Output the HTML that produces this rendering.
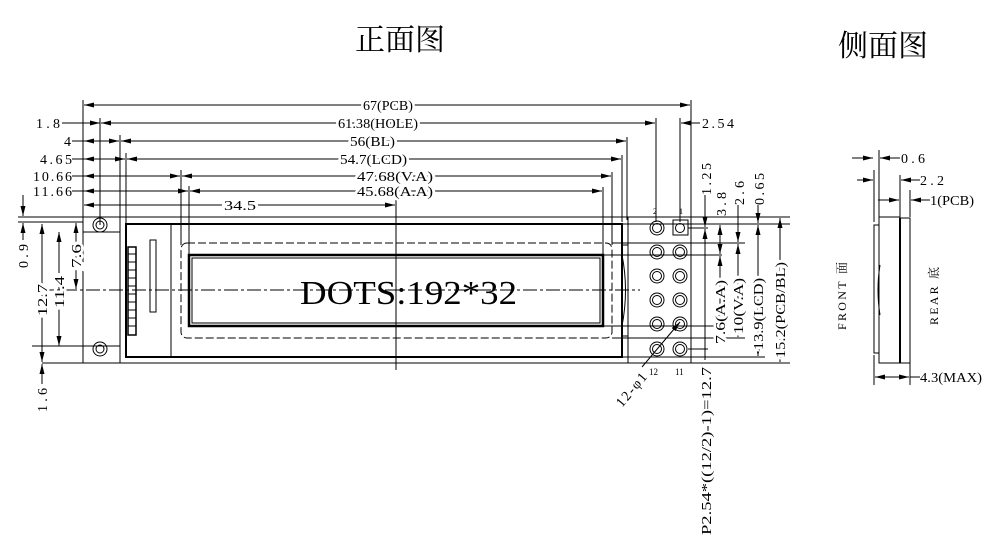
<!DOCTYPE html>
<html><head><meta charset="utf-8"><style>
html,body{margin:0;padding:0;background:#fff;}
svg{display:block}
text{font-family:"Liberation Serif","Noto Serif CJK SC",serif;fill:#000}
.h text{stroke:#fff;stroke-width:5;fill:#fff}
</style></head><body>
<svg width="1003" height="540" viewBox="0 0 1003 540" xmlns="http://www.w3.org/2000/svg">
<defs>
<marker id="a" viewBox="0 0 10 6" refX="10" refY="3" markerWidth="10" markerHeight="6" orient="auto-start-reverse" markerUnits="userSpaceOnUse"><path d="M0,0.5L10,3L0,5.5z" fill="#000"/></marker>
</defs>
<text x="355" y="50" style="font-size:30px;font-family:'Noto Serif CJK SC',serif">正面图</text>
<text x="838" y="56" style="font-size:30px;font-family:'Noto Serif CJK SC',serif">侧面图</text>

<g stroke="#000" stroke-width="1" fill="none">
<line x1="83" y1="100" x2="83" y2="217"/>
<line x1="100" y1="118" x2="100" y2="225"/>
<line x1="120" y1="135" x2="120" y2="217"/>
<line x1="126" y1="153" x2="126" y2="224"/>
<line x1="181" y1="170" x2="181" y2="245"/>
<line x1="189" y1="186" x2="189" y2="257"/>
<line x1="691" y1="100" x2="691" y2="217"/>
<line x1="656" y1="118" x2="656" y2="222"/>
<line x1="680" y1="118" x2="680" y2="222"/>
<line x1="627" y1="137" x2="627" y2="220"/>
<line x1="622" y1="155" x2="622" y2="222"/>
<line x1="612" y1="172" x2="612" y2="245"/>
<line x1="603" y1="187" x2="603" y2="257"/>
<line x1="396" y1="200" x2="396" y2="370"/>
<line x1="84" y1="105" x2="690" y2="105" marker-start="url(#a)" marker-end="url(#a)"/>
<line x1="62" y1="123" x2="100" y2="123" marker-end="url(#a)"/>
<line x1="101" y1="123" x2="655" y2="123" marker-start="url(#a)" marker-end="url(#a)"/>
<line x1="700" y1="123" x2="681" y2="123" marker-end="url(#a)"/>
<line x1="72" y1="141" x2="84" y2="141"/>
<line x1="84" y1="141" x2="119" y2="141" marker-start="url(#a)" marker-end="url(#a)"/>
<line x1="121" y1="141" x2="626" y2="141" marker-start="url(#a)" marker-end="url(#a)"/>
<line x1="72" y1="159" x2="84" y2="159"/>
<line x1="84" y1="159" x2="125" y2="159" marker-start="url(#a)" marker-end="url(#a)"/>
<line x1="127" y1="159" x2="621" y2="159" marker-start="url(#a)" marker-end="url(#a)"/>
<line x1="72" y1="176" x2="84" y2="176"/>
<line x1="84" y1="176" x2="180" y2="176" marker-start="url(#a)" marker-end="url(#a)"/>
<line x1="182" y1="176" x2="611" y2="176" marker-start="url(#a)" marker-end="url(#a)"/>
<line x1="72" y1="191" x2="84" y2="191"/>
<line x1="84" y1="191" x2="188" y2="191" marker-start="url(#a)" marker-end="url(#a)"/>
<line x1="190" y1="191" x2="602" y2="191" marker-start="url(#a)" marker-end="url(#a)"/>
<line x1="84" y1="205" x2="395" y2="205" marker-start="url(#a)" marker-end="url(#a)"/>
</g>

<g stroke="#000" fill="none">
<line x1="18" y1="217" x2="790" y2="217"/>
<line x1="18" y1="222" x2="83" y2="222"/>
<line x1="42" y1="363" x2="790" y2="363"/>
<line x1="83" y1="217" x2="83" y2="363"/>
<line x1="120" y1="217" x2="120" y2="363"/>
<line x1="83" y1="232" x2="120" y2="232"/>
<line x1="55" y1="346" x2="120" y2="346"/>
<line x1="691" y1="217" x2="691" y2="363"/>
<circle cx="100" cy="225" r="7"/><circle cx="100" cy="225" r="4"/>
<circle cx="100" cy="349" r="7"/><circle cx="100" cy="349" r="4"/>
<rect x="126" y="224" width="496" height="133" stroke-width="2"/>
<line x1="171" y1="224" x2="171" y2="357"/>
<rect x="128" y="247" width="8" height="88" stroke-width="1.5"/>
<line x1="128" y1="254" x2="136" y2="254"/><line x1="128" y1="262" x2="136" y2="262"/><line x1="128" y1="270" x2="136" y2="270"/><line x1="128" y1="278" x2="136" y2="278"/><line x1="128" y1="286" x2="136" y2="286"/><line x1="128" y1="294" x2="136" y2="294"/><line x1="128" y1="302" x2="136" y2="302"/><line x1="128" y1="310" x2="136" y2="310"/><line x1="128" y1="318" x2="136" y2="318"/><line x1="128" y1="326" x2="136" y2="326"/>
<rect x="150" y="240" width="6" height="72"/>
<rect x="181" y="243" width="431" height="95" rx="6" stroke-dasharray="8,3"/>
<rect x="189" y="255" width="414" height="71" stroke-width="2.5"/>
<rect x="192" y="258" width="408" height="65"/>
<line x1="628" y1="217" x2="628" y2="363"/>
<line x1="622" y1="245" x2="628" y2="245"/><line x1="622" y1="336" x2="628" y2="336"/>
<path d="M622,255 Q629,290 622,326"/>
<line x1="40" y1="290" x2="640" y2="290" stroke-dasharray="14,3,3,3"/>
<rect x="673" y="220" width="15" height="15"/>
<circle cx="680" cy="228" r="4.5"/>
<circle cx="657" cy="228" r="7"/><circle cx="657" cy="228" r="4.5"/>
<circle cx="657" cy="252" r="7"/><circle cx="657" cy="252" r="4.5"/>
<circle cx="680" cy="252" r="7"/><circle cx="680" cy="252" r="4.5"/>
<circle cx="657" cy="276" r="7"/><circle cx="657" cy="276" r="4.5"/>
<circle cx="680" cy="276" r="7"/><circle cx="680" cy="276" r="4.5"/>
<circle cx="657" cy="300" r="7"/><circle cx="657" cy="300" r="4.5"/>
<circle cx="680" cy="300" r="7"/><circle cx="680" cy="300" r="4.5"/>
<circle cx="657" cy="324" r="7"/><circle cx="657" cy="324" r="4.5"/>
<circle cx="680" cy="324" r="7"/><circle cx="680" cy="324" r="4.5"/>
<circle cx="657" cy="349" r="7"/><circle cx="657" cy="349" r="4.5"/>
<circle cx="680" cy="349" r="7"/><circle cx="680" cy="349" r="4.5"/>
<line x1="642" y1="367" x2="680" y2="322" marker-end="url(#a)"/>
<line x1="688" y1="349" x2="708" y2="349"/>
<line x1="688" y1="228" x2="708" y2="228"/>
<line x1="622" y1="224" x2="790" y2="224"/>
<line x1="612" y1="243" x2="745" y2="243"/>
<line x1="603" y1="255" x2="722" y2="255"/>
<line x1="603" y1="326" x2="722" y2="326"/>
<line x1="612" y1="338" x2="745" y2="338"/>
<line x1="622" y1="357" x2="765" y2="357"/>
<line x1="705" y1="195" x2="705" y2="227" marker-end="url(#a)"/>
<line x1="705" y1="229" x2="705" y2="360" marker-start="url(#a)"/>
<line x1="720" y1="225" x2="720" y2="254" marker-start="url(#a)" marker-end="url(#a)"/>
<line x1="720" y1="256" x2="720" y2="325" marker-start="url(#a)" marker-end="url(#a)"/>
<line x1="738" y1="205" x2="738" y2="242" marker-end="url(#a)"/>
<line x1="738" y1="244" x2="738" y2="337" marker-start="url(#a)" marker-end="url(#a)"/>
<line x1="758" y1="205" x2="758" y2="223" marker-end="url(#a)"/>
<line x1="758" y1="225" x2="758" y2="356" marker-start="url(#a)" marker-end="url(#a)"/>
<line x1="780" y1="218" x2="780" y2="362" marker-start="url(#a)" marker-end="url(#a)"/>
<line x1="23" y1="195" x2="23" y2="216" marker-end="url(#a)"/>
<line x1="23" y1="223" x2="23" y2="240" marker-start="url(#a)"/>
<line x1="42" y1="224" x2="42" y2="362" marker-start="url(#a)" marker-end="url(#a)"/>
<line x1="59" y1="232" x2="59" y2="346" marker-start="url(#a)" marker-end="url(#a)"/>
<line x1="76" y1="223" x2="76" y2="289" marker-start="url(#a)" marker-end="url(#a)"/>
<line x1="42" y1="364" x2="42" y2="384" marker-start="url(#a)"/>
<line x1="32" y1="346" x2="100" y2="346"/>
</g>

<g class="h" style="font-size:14px">
<text x="413" y="110" text-anchor="end" textLength="50" lengthAdjust="spacingAndGlyphs">67(PCB)</text>
<text x="418" y="128" text-anchor="end" textLength="80" lengthAdjust="spacingAndGlyphs">61.38(HOLE)</text>
<text x="395" y="146" text-anchor="end" textLength="45" lengthAdjust="spacingAndGlyphs">56(BL)</text>
<text x="407" y="164" text-anchor="end" textLength="67" lengthAdjust="spacingAndGlyphs">54.7(LCD)</text>
<text x="433" y="181" text-anchor="end" textLength="76" lengthAdjust="spacingAndGlyphs">47.68(V.A)</text>
<text x="433" y="196" text-anchor="end" textLength="76" lengthAdjust="spacingAndGlyphs">45.68(A.A)</text>
<text x="224" y="210" textLength="32" lengthAdjust="spacingAndGlyphs">34.5</text>
<text transform="translate(47,316) rotate(-90)" textLength="32" lengthAdjust="spacingAndGlyphs">12.7</text>
<text transform="translate(64,308) rotate(-90)" textLength="32" lengthAdjust="spacingAndGlyphs">11.4</text>
<text transform="translate(81,268) rotate(-90)" textLength="24" lengthAdjust="spacingAndGlyphs">7.6</text>
<text transform="translate(725,344) rotate(-90)" textLength="64" lengthAdjust="spacingAndGlyphs">7.6(A.A)</text>
<text transform="translate(743,334) rotate(-90)" textLength="56" lengthAdjust="spacingAndGlyphs">10(V.A)</text>
<text transform="translate(763,350) rotate(-90)" textLength="72" lengthAdjust="spacingAndGlyphs">13.9(LCD)</text>
<text transform="translate(785,358) rotate(-90)" textLength="96" lengthAdjust="spacingAndGlyphs">15.2(PCB/BL)</text>
</g>
<g style="font-size:14px">
<text x="413" y="110" text-anchor="end" textLength="50" lengthAdjust="spacingAndGlyphs">67(PCB)</text>
<text x="418" y="128" text-anchor="end" textLength="80" lengthAdjust="spacingAndGlyphs">61.38(HOLE)</text>
<text x="395" y="146" text-anchor="end" textLength="45" lengthAdjust="spacingAndGlyphs">56(BL)</text>
<text x="407" y="164" text-anchor="end" textLength="67" lengthAdjust="spacingAndGlyphs">54.7(LCD)</text>
<text x="433" y="181" text-anchor="end" textLength="76" lengthAdjust="spacingAndGlyphs">47.68(V.A)</text>
<text x="433" y="196" text-anchor="end" textLength="76" lengthAdjust="spacingAndGlyphs">45.68(A.A)</text>
<text x="224" y="210" textLength="32" lengthAdjust="spacingAndGlyphs">34.5</text>
<text transform="translate(47,316) rotate(-90)" textLength="32" lengthAdjust="spacingAndGlyphs">12.7</text>
<text transform="translate(64,308) rotate(-90)" textLength="32" lengthAdjust="spacingAndGlyphs">11.4</text>
<text transform="translate(81,268) rotate(-90)" textLength="24" lengthAdjust="spacingAndGlyphs">7.6</text>
<text transform="translate(725,344) rotate(-90)" textLength="64" lengthAdjust="spacingAndGlyphs">7.6(A.A)</text>
<text transform="translate(743,334) rotate(-90)" textLength="56" lengthAdjust="spacingAndGlyphs">10(V.A)</text>
<text transform="translate(763,350) rotate(-90)" textLength="72" lengthAdjust="spacingAndGlyphs">13.9(LCD)</text>
<text transform="translate(785,358) rotate(-90)" textLength="96" lengthAdjust="spacingAndGlyphs">15.2(PCB/BL)</text>

<text x="36" y="128" textLength="24">1.8</text>
<text x="64" y="146">4</text>
<text x="40" y="164" textLength="32">4.65</text>
<text x="33" y="181" textLength="39">10.66</text>
<text x="33" y="196" textLength="39">11.66</text>
<text x="702" y="128" textLength="32">2.54</text>
<text transform="translate(28,268) rotate(-90)" textLength="24">0.9</text>
<text transform="translate(47,412) rotate(-90)" textLength="24">1.6</text>
<text transform="translate(711,195) rotate(-90)" textLength="32">1.25</text>
<text transform="translate(726,216) rotate(-90)" textLength="24">3.8</text>
<text transform="translate(744,205) rotate(-90)" textLength="24">2.6</text>
<text transform="translate(764,205) rotate(-90)" textLength="32">0.65</text>
<text transform="translate(711,535) rotate(-90)" textLength="168" lengthAdjust="spacingAndGlyphs">P2.54*((12/2)-1)=12.7</text>
<text transform="translate(622,408) rotate(-50)" textLength="40">12-φ1</text>
</g>
<text x="653" y="214" style="font-size:8px">2</text>
<text x="679" y="214" style="font-size:8px">1</text>
<text x="649" y="375" style="font-size:9px">12</text>
<text x="675" y="375" style="font-size:9px">11</text>
<text x="300" y="304" style="font-size:34px" textLength="217" lengthAdjust="spacingAndGlyphs">DOTS:192*32</text>

<g stroke="#000" fill="none">
<rect x="874" y="225" width="5" height="128"/>
<rect x="879" y="217" width="21" height="146"/>
<rect x="900" y="218" width="10" height="145"/>
<line x1="900" y1="218" x2="900" y2="363" stroke-width="2"/>
<path d="M880,265 Q876,290 880,315"/>
<line x1="874" y1="170" x2="874" y2="222"/>
<line x1="879" y1="150" x2="879" y2="217"/>
<line x1="900" y1="175" x2="900" y2="217"/>
<line x1="910" y1="190" x2="910" y2="217"/>
<line x1="874" y1="355" x2="874" y2="385"/>
<line x1="910" y1="363" x2="910" y2="385"/>
<line x1="852" y1="158" x2="873" y2="158" marker-end="url(#a)"/>
<line x1="900" y1="158" x2="880" y2="158" marker-end="url(#a)"/>
<line x1="857" y1="180" x2="873" y2="180" marker-end="url(#a)"/>
<line x1="920" y1="180" x2="901" y2="180" marker-end="url(#a)"/>
<line x1="878" y1="200" x2="899" y2="200" marker-end="url(#a)"/>
<line x1="930" y1="200" x2="911" y2="200" marker-end="url(#a)"/>
<line x1="875" y1="377" x2="909" y2="377" marker-start="url(#a)" marker-end="url(#a)"/>
<line x1="910" y1="377" x2="920" y2="377"/>
</g>
<g style="font-size:14px">
<text x="901" y="163" textLength="24">0.6</text>
<text x="920" y="185" textLength="24">2.2</text>
<text x="930" y="205" textLength="44" lengthAdjust="spacingAndGlyphs">1(PCB)</text>
<text x="920" y="382" textLength="62" lengthAdjust="spacingAndGlyphs">4.3(MAX)</text>
<text transform="translate(846,330) rotate(-90)" style="font-size:12px" textLength="68">FRONT 面</text>
<text transform="translate(938,325) rotate(-90)" style="font-size:12px" textLength="58">REAR 底</text>
</g>
</svg>
</body></html>
